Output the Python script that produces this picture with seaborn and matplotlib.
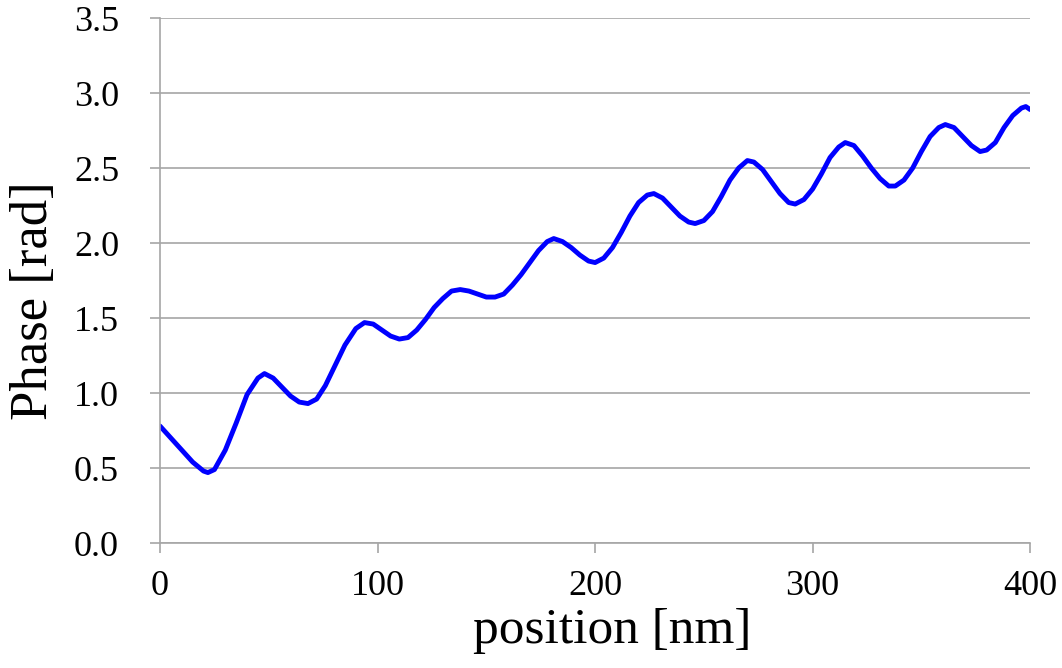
import matplotlib
matplotlib.use("Agg")
import matplotlib.pyplot as plt
import pandas as pd
import seaborn as sns

# values
position_nm = [0, 5, 10, 15, 20, 22, 25, 30, 35, 40, 45, 48, 52, 56, 60, 64, 68, 72, 76, 80,
               85, 90, 94, 98, 102, 106, 110, 114, 118, 122, 126, 130, 134, 138, 142, 146, 150,
               154, 158, 162, 166, 170, 174, 178, 181, 185, 189, 193, 197, 200, 204, 208, 212,
               216, 220, 224, 227, 231, 235, 239, 243, 246, 250, 254, 258, 262, 266, 270, 273,
               277, 281, 285, 289, 292, 296, 300, 304, 308, 312, 315, 319, 323, 327, 331, 335,
               338, 342, 346, 350, 354, 358, 361, 365, 369, 373, 377, 380, 384, 388, 392, 396,
               398, 400]
phase_rad = [0.78, 0.70, 0.62, 0.54, 0.48, 0.47, 0.49, 0.62, 0.80, 0.99, 1.10, 1.13, 1.10, 1.04,
             0.98, 0.94, 0.93, 0.96, 1.05, 1.17, 1.32, 1.43, 1.47, 1.46, 1.42, 1.38, 1.36, 1.37,
             1.42, 1.49, 1.57, 1.63, 1.68, 1.69, 1.68, 1.66, 1.64, 1.64, 1.66, 1.72, 1.79, 1.87,
             1.95, 2.01, 2.03, 2.01, 1.97, 1.92, 1.88, 1.87, 1.90, 1.97, 2.07, 2.18, 2.27, 2.32,
             2.33, 2.30, 2.24, 2.18, 2.14, 2.13, 2.15, 2.21, 2.31, 2.42, 2.50, 2.55, 2.54, 2.49,
             2.41, 2.33, 2.27, 2.26, 2.29, 2.36, 2.46, 2.57, 2.64, 2.67, 2.65, 2.58, 2.50, 2.43,
             2.38, 2.38, 2.42, 2.50, 2.61, 2.71, 2.77, 2.79, 2.77, 2.71, 2.65, 2.61, 2.62, 2.67,
             2.77, 2.85, 2.90, 2.91, 2.89]
x_ticks = [0, 100, 200, 300, 400]
y_ticks = [0.0, 0.5, 1.0, 1.5, 2.0, 2.5, 3.0, 3.5]

df = pd.DataFrame({"position": position_nm, "phase": phase_rad})

sns.set_theme(style="white")
plt.rcParams['font.family'] = ['Liberation Serif', 'DejaVu Serif']

fig = plt.figure(figsize=(10.62, 6.68), dpi=100)
ax = fig.add_axes([0.1507, 0.187, 0.8193, 0.786])

sns.lineplot(data=df, x="position", y="phase", color="#0000ff", linewidth=3.5, ax=ax)

ax.set_xlim(0, 400)
ax.set_ylim(0, 3.5)
ax.set_xticks(x_ticks)
ax.set_xticklabels([str(t) for t in x_ticks])
ax.set_yticks(y_ticks)
ax.set_yticklabels(["%.1f" % t for t in y_ticks])

ax.yaxis.grid(True, color="#a6a6a6", linewidth=1.2)
ax.set_axisbelow(True)
for s in ["top", "right"]:
    ax.spines[s].set_visible(False)
for s in ["left", "bottom"]:
    ax.spines[s].set_color("#a6a6a6")
    ax.spines[s].set_linewidth(1.2)

ax.tick_params(axis="both", colors="#a6a6a6", labelcolor="black", labelsize=26,
               length=7.5, width=1.2, direction="out", left=True, bottom=True)
ax.tick_params(axis="y", pad=22)
ax.tick_params(axis="x", pad=12)

ax.set_xlabel("position [nm]", fontsize=37, color="black")
ax.set_ylabel("Phase [rad]", fontsize=38, color="black")
ax.xaxis.set_label_coords(0.5195, -0.122)
ax.yaxis.set_label_coords(-0.117, 0.461)

fig.savefig("out.png", dpi=100)
